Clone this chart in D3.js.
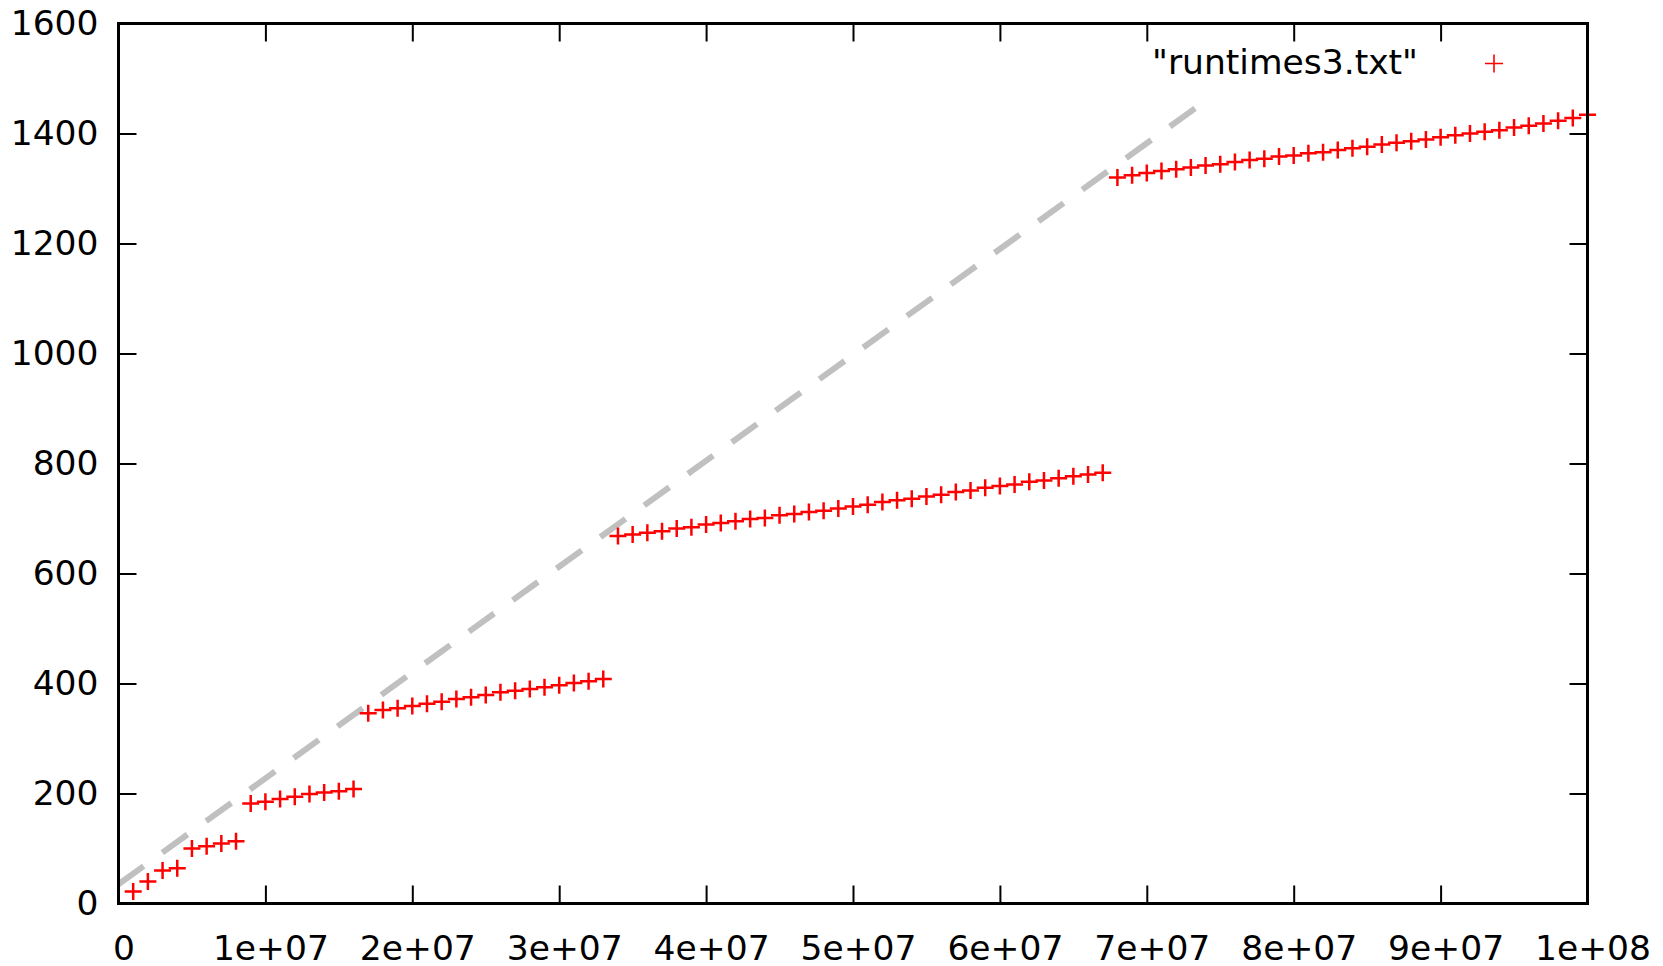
<!DOCTYPE html>
<html>
<head>
<meta charset="utf-8">
<script src="https://cdnjs.cloudflare.com/ajax/libs/d3/7.8.5/d3.min.js"></script>
<style>
    body { margin: 0; background: white; }
    svg { display: block; }
    text { font-family: "DejaVu Sans", sans-serif; }
</style>
</head>
<body>
<div id="chart"></div>
<script>
// problem size (millions of elements)
var sizes = [1, 2, 3, 4, 5, 6, 7, 8,
    9, 10, 11, 12, 13, 14, 15, 16,
    17, 18, 19, 20, 21, 22, 23, 24, 25, 26, 27, 28, 29, 30, 31, 32, 33,
    34, 35, 36, 37, 38, 39, 40, 41, 42, 43, 44, 45, 46, 47, 48, 49, 50,
    51, 52, 53, 54, 55, 56, 57, 58, 59, 60, 61, 62, 63, 64, 65, 66, 67,
    68, 69, 70, 71, 72, 73, 74, 75, 76, 77, 78, 79, 80, 81, 82, 83, 84,
    85, 86, 87, 88, 89, 90, 91, 92, 93, 94, 95, 96, 97, 98, 99, 100];

var runtimes = [22, 40, 60, 64, 100, 104, 109, 113,
    182, 185, 190, 194, 199, 202, 204, 208,
    346, 352, 355, 359, 363, 367, 372, 375, 379, 384, 387, 390, 393, 397, 401, 404, 408,
    668, 671, 674, 677, 682, 684, 689, 692, 695, 699, 701, 706, 708, 712, 714, 718, 722,
    725, 730, 733, 736, 740, 743, 748, 751, 756, 759, 762, 767, 769, 773, 777, 780, 783,
    1320, 1324, 1328, 1332, 1335, 1338, 1342, 1344, 1348, 1352, 1354, 1358, 1360, 1364, 1366, 1370, 1373,
    1376, 1380, 1383, 1386, 1389, 1393, 1397, 1400, 1403, 1406, 1411, 1414, 1418, 1423, 1428, 1434];

// dashed reference line (start and end)
var trendX = [0, 73.3e6];
var trendY = [35, 1446];

var xTicks = [0, 1e7, 2e7, 3e7, 4e7, 5e7, 6e7, 7e7, 8e7, 9e7, 1e8];
var xTickLabels = ["0", "1e+07", "2e+07", "3e+07", "4e+07", "5e+07", "6e+07", "7e+07", "8e+07", "9e+07", "1e+08"];
var yTicks = [0, 200, 400, 600, 800, 1000, 1200, 1400, 1600];

var legendLabel = "\"runtimes3.txt\"";

var width = 1663,
    height = 966,
    margin = { top: 23.5, right: 75.5, bottom: 62.5, left: 118.5 };

var w = width - margin.left - margin.right,
    h = height - margin.top - margin.bottom;

var fontSize = "34.5px";

var svg = d3.select("#chart").append("svg")
    .attr("width", width)
    .attr("height", height);

var g = svg.append("g")
    .attr("transform", "translate(" + margin.left + "," + margin.top + ")");

var x = d3.scaleLinear().domain([0, 1e8]).range([0, w]);
var y = d3.scaleLinear().domain([0, 1600]).range([h, 0]);

var points = sizes.map(function (s, i) {
    return { n: s * 1e6, t: runtimes[i] };
});

// axes, ticks pointing inward
var bottomAxis = d3.axisBottom(x)
    .tickValues(xTicks)
    .tickSize(-18)
    .tickPadding(32)
    .tickFormat(function (d, i) { return xTickLabels[i]; });

var leftAxis = d3.axisLeft(y)
    .tickValues(yTicks)
    .tickSize(-18)
    .tickPadding(20)
    .tickFormat(d3.format("d"));

var topAxis = d3.axisTop(x).tickValues(xTicks).tickSize(-18).tickFormat("");
var rightAxis = d3.axisRight(y).tickValues(yTicks).tickSize(-18).tickFormat("");

function styleAxis(sel) {
    sel.select(".domain").remove();
    sel.selectAll("line").attr("stroke", "#000").attr("stroke-width", 2);
    sel.selectAll("text")
        .attr("fill", "#000")
        .style("font-size", fontSize)
        .style("font-family", "'DejaVu Sans', sans-serif");
}

var xAxisG = g.append("g").attr("transform", "translate(0," + h + ")").call(bottomAxis).call(styleAxis);
// gnuplot puts the x labels a little right of the tick
xAxisG.selectAll("text").attr("dx", 5);

g.append("g").call(leftAxis).call(styleAxis);
g.append("g").call(topAxis).call(styleAxis);
g.append("g").attr("transform", "translate(" + w + ",0)").call(rightAxis).call(styleAxis);

// dashed gray line
g.append("line")
    .attr("x1", x(trendX[0]))
    .attr("y1", y(trendY[0]))
    .attr("x2", x(trendX[1]))
    .attr("y2", y(trendY[1]))
    .attr("stroke", "#c0c0c0")
    .attr("stroke-width", 6)
    .attr("stroke-dasharray", "31,23");

// data points as + marks
var plusSize = 8.5;
function plusPath(cx, cy, s) {
    return "M" + (cx - s) + "," + cy + "H" + (cx + s) +
        "M" + cx + "," + (cy - s) + "V" + (cy + s);
}

g.append("g")
    .selectAll("path")
    .data(points)
    .enter()
    .append("path")
    .attr("d", function (d) { return plusPath(x(d.n), y(d.t), plusSize); })
    .attr("stroke", "#ff0000")
    .attr("stroke-width", 2.5)
    .attr("fill", "none");

// border
g.append("rect")
    .attr("width", w)
    .attr("height", h)
    .attr("fill", "none")
    .attr("stroke", "#000")
    .attr("stroke-width", 3);

// legend
svg.append("text")
    .attr("x", 1418)
    .attr("y", 74)
    .attr("text-anchor", "end")
    .style("font-size", fontSize)
    .attr("fill", "#000")
    .text(legendLabel);

svg.append("path")
    .attr("d", plusPath(1494, 63.5, 9))
    .attr("stroke", "#ff0000")
    .attr("stroke-width", 1.6)
    .attr("fill", "none");
</script>
</body>
</html>
